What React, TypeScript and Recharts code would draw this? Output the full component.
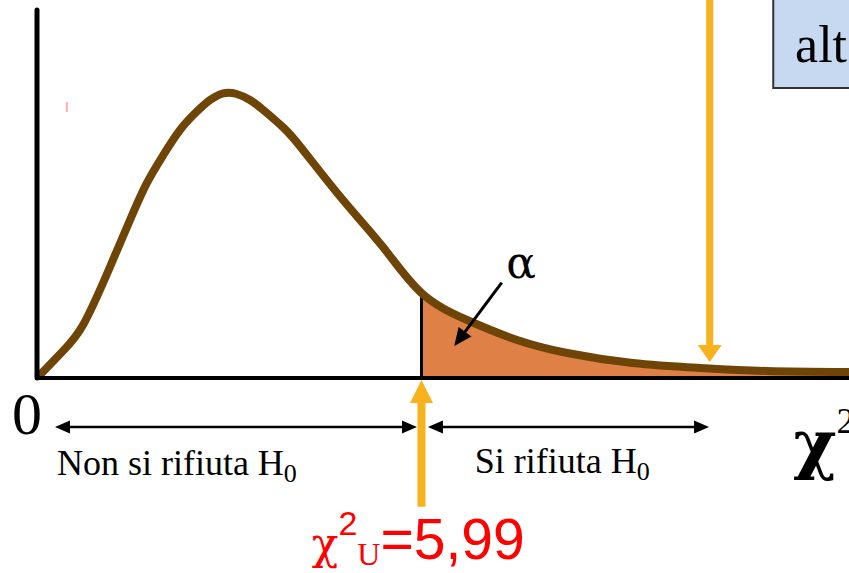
import React from 'react';
import { ComposedChart, Line, Area, XAxis, YAxis, ReferenceLine, ReferenceDot, ReferenceArea } from 'recharts';

// chi-square values (x) and curve heights (density-like units)
const chiValues = [0, 0.405, 0.717, 1.09, 1.449, 1.709, 1.968, 2.228, 2.488, 2.695, 2.902, 3.111, 3.318, 3.525, 3.837, 4.144, 4.767, 5.39, 5.99, 6.7, 7.48, 8.26, 9.28, 10.33, 11.37, 12.65];
const density = [0, 0.022, 0.0432, 0.0848, 0.1288, 0.1587, 0.1818, 0.2022, 0.2171, 0.2266, 0.2321, 0.2315, 0.2266, 0.2185, 0.2042, 0.1859, 0.1451, 0.1068, 0.0693, 0.0473, 0.031, 0.0204, 0.0122, 0.0082, 0.0057, 0.0049];

const criticalValue = 5.99;
const criticalDensity = 0.0693;
const criticalText = '5,99';
const xDomain = [0, 12.65];
const yDomain = [0, 0.3];

const acceptLabel = 'Non si rifiuta H';
const rejectLabel = 'Si rifiuta H';
const alphaLabel = 'α';
const boxLabel = 'alt';
const originLabel = '0';

const data = chiValues.map((x, i) => ({ x, y: density[i] }));
const tailFraction = (criticalValue - xDomain[0]) / (xDomain[1] - xDomain[0]);

const BROWN = '#6E4506';
const ORANGE_FILL = '#DF8047';
const GOLD = '#F7B21E';
const SERIF = '"Liberation Serif", "DejaVu Serif", serif';
const GREEK = '"DejaVu Serif", serif';
const SANS_N = '"Liberation Sans Narrow", "Liberation Sans", sans-serif';

const arrow = (color: string, width: number, headL: number, headW: number, both = false) => (p: any) => {
  const { x1, y1, x2, y2 } = p;
  const dx = x2 - x1;
  const dy = y2 - y1;
  const len = Math.hypot(dx, dy) || 1;
  const ux = dx / len;
  const uy = dy / len;
  const nx = -uy;
  const ny = ux;
  const head = (tx: number, ty: number, dx0: number, dy0: number) => {
    const bx = tx - dx0 * headL;
    const by = ty - dy0 * headL;
    return `${tx},${ty} ${bx + (nx * headW) / 2},${by + (ny * headW) / 2} ${bx - (nx * headW) / 2},${by - (ny * headW) / 2}`;
  };
  const sx = both ? x1 + ux * headL * 0.8 : x1;
  const sy = both ? y1 + uy * headL * 0.8 : y1;
  return (
    <g>
      <line x1={sx} y1={sy} x2={x2 - ux * headL * 0.8} y2={y2 - uy * headL * 0.8} stroke={color} strokeWidth={width} />
      <polygon points={head(x2, y2, ux, uy)} fill={color} />
      {both && <polygon points={head(x1, y1, -ux, -uy)} fill={color} />}
    </g>
  );
};

const textShape = (content: React.ReactNode, style: any) => (p: any) => (
  <text x={p.cx} y={p.cy} {...style}>
    {content}
  </text>
);

export default function App() {
  return (
    <div style={{ position: 'absolute', left: 0, top: 0, width: 849, height: 573, background: '#fff' }}>
      <ComposedChart width={849} height={573} data={data} margin={{ top: 10, right: 0, left: 37, bottom: 195 }}>
        <defs>
          <linearGradient id="tailFill" x1="0" y1="0" x2="1" y2="0">
            <stop offset={tailFraction} stopColor={ORANGE_FILL} stopOpacity={0} />
            <stop offset={tailFraction} stopColor={ORANGE_FILL} stopOpacity={1} />
          </linearGradient>
        </defs>
        <XAxis type="number" dataKey="x" domain={xDomain} allowDataOverflow hide />
        <YAxis type="number" domain={yDomain} allowDataOverflow hide />

        <ReferenceArea
          x1={11.47}
          x2={13.5}
          y1={0.2364}
          y2={0.33}
          ifOverflow="visible"
          fill="#C6D9F1"
          fillOpacity={1}
          stroke="#333"
          strokeWidth={2}
        />

        <Area
          type="natural"
          dataKey="y"
          stroke="none"
          fill="url(#tailFill)"
          fillOpacity={1}
          isAnimationActive={false}
        />
        <ReferenceLine
          segment={[{ x: criticalValue, y: 0 }, { x: criticalValue, y: criticalDensity }]}
          stroke="#000"
          strokeWidth={3}
          ifOverflow="visible"
        />
        <Line
          type="natural"
          dataKey="y"
          stroke={BROWN}
          strokeWidth={8}
          dot={false}
          isAnimationActive={false}
          strokeLinejoin="round"
        />

        {/* axes */}
        <ReferenceLine segment={[{ x: 0, y: 0 }, { x: 13, y: 0 }]} stroke="#000" strokeWidth={4} ifOverflow="visible" />
        <ReferenceLine
          segment={[{ x: 0, y: 0 }, { x: 0, y: 0.3 }]}
          stroke="#000"
          strokeWidth={5}
          strokeLinecap="round"
          ifOverflow="visible"
        />

        {/* small pink mark */}
        <ReferenceLine segment={[{ x: 0.464, y: 0.225 }, { x: 0.464, y: 0.2168 }]} stroke="#FFAFAF" strokeWidth={2} ifOverflow="visible" />

        {/* arrows */}
        <ReferenceLine
          segment={[{ x: 0.28, y: -0.04 }, { x: 5.92, y: -0.04 }]}
          ifOverflow="visible"
          shape={arrow('#000', 2.5, 15, 13, true)}
        />
        <ReferenceLine
          segment={[{ x: 6.09, y: -0.04 }, { x: 10.47, y: -0.04 }]}
          ifOverflow="visible"
          shape={arrow('#000', 2.5, 15, 13, true)}
        />
        <ReferenceLine
          segment={[{ x: criticalValue, y: -0.105 }, { x: criticalValue, y: -0.0016 }]}
          ifOverflow="visible"
          shape={arrow(GOLD, 8, 23, 23)}
        />
        <ReferenceLine
          segment={[{ x: 10.48, y: 0.31 }, { x: 10.48, y: 0.013 }]}
          ifOverflow="visible"
          shape={arrow(GOLD, 7, 17, 24)}
        />
        <ReferenceLine
          segment={[{ x: 7.24, y: 0.0777 }, { x: 6.5, y: 0.026 }]}
          ifOverflow="visible"
          shape={arrow('#000', 3, 18, 16)}
        />

        {/* texts */}
        <ReferenceDot
          x={-0.39}
          y={-0.0457}
          r={1}
          ifOverflow="visible"
          shape={textShape(originLabel, { fontFamily: SERIF, fontSize: 60, fill: '#000' })}
        />
        <ReferenceDot
          x={0.31}
          y={-0.079}
          r={1}
          ifOverflow="visible"
          shape={textShape(
            <>
              {acceptLabel}
              <tspan fontSize={26} dy={7}>0</tspan>
            </>,
            { fontFamily: SERIF, fontSize: 36, fill: '#000' }
          )}
        />
        <ReferenceDot
          x={6.82}
          y={-0.0774}
          r={1}
          ifOverflow="visible"
          shape={textShape(
            <>
              {rejectLabel}
              <tspan fontSize={26} dy={7}>0</tspan>
            </>,
            { fontFamily: SERIF, fontSize: 36, fill: '#000' }
          )}
        />
        <ReferenceDot
          x={7.31}
          y={0.0815}
          r={1}
          ifOverflow="visible"
          shape={textShape(alphaLabel, { fontFamily: GREEK, fontSize: 44, fill: '#000' })}
        />
        <ReferenceDot
          x={11.81}
          y={0.2576}
          r={1}
          ifOverflow="visible"
          shape={textShape(boxLabel, { fontFamily: SERIF, fontSize: 52, fill: '#000' })}
        />
        <ReferenceDot
          x={11.78}
          y={-0.072}
          r={1}
          ifOverflow="visible"
          shape={textShape(
            <>
              χ<tspan fontFamily={SERIF} fontSize={36} fontWeight="normal" dy={-33}>2</tspan>
            </>,
            { fontFamily: GREEK, fontSize: 66, fontWeight: 'bold', fill: '#000' }
          )}
        />
        <ReferenceDot
          x={4.28}
          y={-0.1475}
          r={1}
          ifOverflow="visible"
          shape={textShape(
            <>
              <tspan fontFamily={GREEK} fontSize={44}>χ</tspan>
              <tspan fontFamily={SANS_N} fontSize={34} dy={-24}>2</tspan>
              <tspan fontFamily={SERIF} fontSize={32} dy={30}>U</tspan>
              <tspan fontFamily={SANS_N} fontSize={57} dy={-6}>={criticalText}</tspan>
            </>,
            { fill: '#FF0000' }
          )}
        />
      </ComposedChart>
    </div>
  );
}
